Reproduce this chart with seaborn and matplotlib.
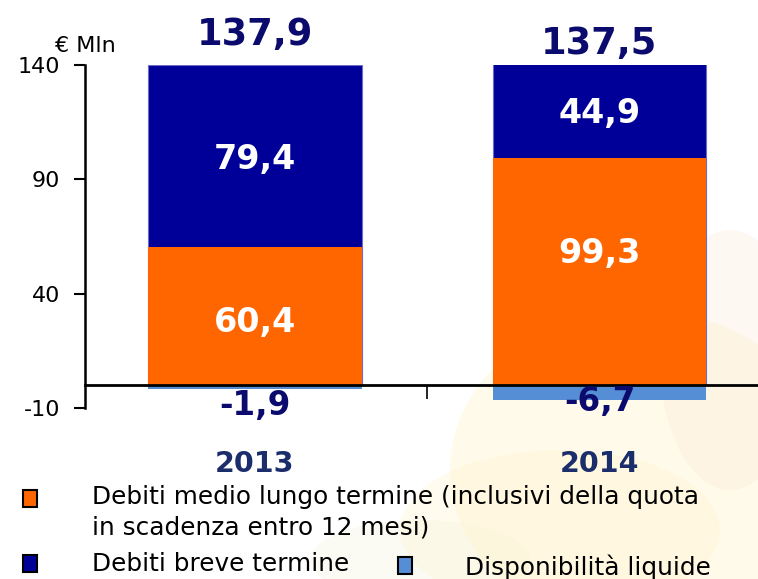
import matplotlib
matplotlib.use("Agg")
import matplotlib.pyplot as plt
from matplotlib.patches import Rectangle, Ellipse
import seaborn as sns
import pandas as pd

# ---- data ----
years = ["2013", "2014"]
debiti_mlt = [60.4, 99.3]      # Debiti medio lungo termine
debiti_bt = [79.4, 44.9]       # Debiti breve termine
disponibilita = [-1.9, -6.7]   # Disponibilità liquide
totali = [137.9, 137.5]
yticks = [-10, 40, 90, 140]

legend_labels = ["Debiti medio lungo termine (inclusivi della quota\nin scadenza entro 12 mesi)",
                 "Debiti breve termine", "Disponibilità liquide"]

ORANGE = "#FF6600"
NAVY = "#000099"
LBLUE = "#558ED5"
TXTNAVY = "#0B0B6E"
CATNAVY = "#1B2D6B"

sns.set_theme(style="white")
plt.rcParams["font.family"] = ["DejaVu Sans"]
plt.rcParams["text.color"] = "black"
plt.rcParams["ytick.color"] = "black"
plt.rcParams["xtick.color"] = "black"

fig = plt.figure(figsize=(7.58, 5.79), dpi=100)

# faint background watermark
bg = fig.add_axes([0, 0, 1, 1], zorder=-5)
bg.set_xlim(0, 758); bg.set_ylim(579, 0); bg.axis("off")
for (cx, cy, w, h, c, a) in [(640, 470, 380, 320, "#FFF1C2", 0.35),
                             (560, 530, 320, 160, "#FFF4D2", 0.35),
                             (730, 360, 140, 260, "#FDEBDB", 0.35),
                             (420, 560, 220, 80, "#F6F4D8", 0.3)]:
    bg.add_patch(Ellipse((cx, cy), w, h, color=c, alpha=a, lw=0))

ax = fig.add_axes([85/758, 1-408/579, 1-85/758, (408-65)/579])
ax.set_facecolor("none")

df = pd.DataFrame({
    "anno": years,
    "mlt": debiti_mlt,
    "stack": [a + b for a, b in zip(debiti_mlt, debiti_bt)],
    "liq": disponibilita,
})

W = 0.62
sns.barplot(data=df, x="anno", y="stack", color=NAVY, saturation=1, width=W,
            edgecolor="#6b6bc8", linewidth=0.8, ax=ax)
sns.barplot(data=df, x="anno", y="mlt", color=ORANGE, saturation=1, width=W,
            linewidth=0, ax=ax)
sns.barplot(data=df, x="anno", y="liq", color=LBLUE, saturation=1, width=W,
            linewidth=0, ax=ax)

ax.set_ylim(-10, 140)
ax.set_xlim(-0.493, 1.46)
ax.set_xlabel(""); ax.set_ylabel("")

for s in ["top", "right"]:
    ax.spines[s].set_visible(False)
ax.spines["left"].set_linewidth(1.8)
ax.spines["left"].set_color("black")
ax.spines["bottom"].set_position(("data", 0))
ax.spines["bottom"].set_linewidth(2)
ax.spines["bottom"].set_color("black")
ax.spines["left"].set_zorder(5)
ax.spines["bottom"].set_zorder(5)

ax.set_yticks(yticks)
ax.set_yticklabels([str(t) for t in yticks])
ax.tick_params(axis="y", direction="out", length=8, width=1.5, left=True, pad=10)
ax.set_xticks([0.5])
ax.set_xticklabels([""])
ax.tick_params(axis="x", direction="out", length=10, width=1.2, bottom=True)
for lab in ax.get_yticklabels():
    lab.set_fontsize(16)
    lab.set_color("black")

# value labels
inner_y = {"bt": [98.5, 119.0], "mlt": [27.5, 57.5]}
for i in range(len(years)):
    ax.text(i, inner_y["bt"][i], f"{debiti_bt[i]:.1f}".replace(".", ","), ha="center",
            va="center", color="white", fontsize=24, fontweight="bold")
    ax.text(i, inner_y["mlt"][i], f"{debiti_mlt[i]:.1f}".replace(".", ","), ha="center",
            va="center", color="white", fontsize=24, fontweight="bold")
neg_y = [-8.8, -7.2]
tot_y = [153.5, 149.5]
for i in range(len(years)):
    ax.text(i, neg_y[i], f"{disponibilita[i]:.1f}".replace(".", ","), ha="center",
            va="center", color=TXTNAVY, fontsize=23.5, fontweight="bold", zorder=6)
    ax.text(i, tot_y[i], f"{totali[i]:.1f}".replace(".", ","), ha="center",
            va="center", color=TXTNAVY, fontsize=26.5, fontweight="bold", clip_on=False)
    ax.text(i, -34.5, years[i], ha="center", va="center", color=CATNAVY,
            fontsize=20.5, fontweight="bold", clip_on=False)

fig.text(55/758, 1-46/579, "€ Mln", fontsize=16, ha="left", va="center")

# legend (manual)
def sq(x0, y0, w, h, c):
    fig.patches.append(Rectangle((x0/758, 1-(y0+h)/579), w/758, h/579,
                                 transform=fig.transFigure, facecolor=c,
                                 edgecolor="black", linewidth=1.5))
sq(23, 490, 14, 17, ORANGE)
sq(23, 555, 14, 17, NAVY)
sq(398, 557, 14, 17, LBLUE)
fs = 17.8
fig.text(92/758, 1-497/579, legend_labels[0].split("\n")[0], fontsize=fs, va="center", ha="left")
fig.text(92/758, 1-528/579, legend_labels[0].split("\n")[1], fontsize=fs, va="center", ha="left")
fig.text(92/758, 1-564/579, legend_labels[1], fontsize=fs, va="center", ha="left")
fig.text(465/758, 1-567/579, legend_labels[2], fontsize=fs, va="center", ha="left")

fig.savefig("out.png", dpi=100)
